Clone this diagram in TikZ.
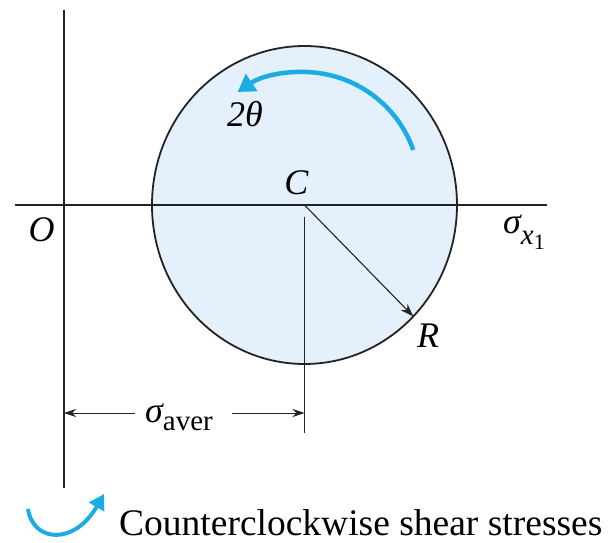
\documentclass[tikz,border=0pt]{standalone}
\usepackage{fontspec}
\setmainfont{Liberation Serif}
\usetikzlibrary{arrows.meta}
\definecolor{circfill}{RGB}{228,240,251}
\definecolor{arrblue}{RGB}{28,172,228}
\definecolor{ink}{RGB}{35,35,35}
\tikzset{
  axisline/.style={draw=ink,line width=1.6pt},
  thinline/.style={draw=ink,line width=1.1pt},
  lbl/.style={inner sep=0pt,font=\fontsize{36}{40}\selectfont\itshape},
  dimarrow/.style={draw=ink,line width=1pt,-{Stealth[length=12pt,width=8pt]}},
  bluearrow/.style={draw=arrblue,line width=4.5pt,-{Triangle[length=17pt,width=20pt]}},
  legendarrow/.style={draw=arrblue,line width=4pt,-{Triangle[length=15pt,width=17pt]}},
}
\newcommand{\subsz}[1]{{\fontsize{29}{32}\selectfont #1}}
\newcommand{\subsubsz}[1]{{\fontsize{22}{24}\selectfont #1}}
\begin{document}
\begin{tikzpicture}[x=1pt,y=1pt]
\useasboundingbox (0,0) rectangle (614,542);
% circle
\coordinate (C) at (304.5,337);
\fill[circfill] (C) ellipse [x radius=152.5, y radius=159];
\draw[ink,line width=1.8pt] (C) ellipse [x radius=152.5, y radius=159];
% axes
\coordinate (Vtop) at (64,532);
\coordinate (Vbot) at (64,54);
\coordinate (Hleft) at (15,337);
\coordinate (Hright) at (547,337);
\draw[axisline] (Vtop) -- (Vbot);
\draw[axisline] (Hleft) -- (Hright);
% radius
\coordinate (Rp) at (413.3,225.6);
\draw[thinline,-{Stealth[length=13pt,width=9pt]}] (C) -- (Rp);
% vertical line from center
\coordinate (Ct) at (304.5,325);
\coordinate (Cb) at (304.5,109);
\draw[thinline] (Ct) -- (Cb);
% dimension sigma_aver
\coordinate (D1) at (64,129);
\coordinate (D2) at (304.5,129);
\coordinate (G1) at (135,129);
\coordinate (G2) at (232,129);
\draw[dimarrow] (G1) -- (D1);
\draw[dimarrow] (G2) -- (D2);
\node[lbl,anchor=base west] (avg) at (145,120) {σ\raisebox{-8pt}{\subsz{\upshape aver}}};
% rotation arrow 2theta
\coordinate (arcC) at (303,353);
\draw[bluearrow] (arcC) ++(19.5:117) arc[start angle=19.5,end angle=124,radius=117];
\node[lbl,anchor=base] (theta) at (245,415) {2θ};
% labels
\node[lbl,anchor=base] (Clab) at (296.5,347) {C};
\node[lbl,anchor=base] (Rlab) at (428,195) {R};
\node[lbl,anchor=base] (Olab) at (41.5,300) {O};
\node[lbl,anchor=base west] (sx) at (503,308) {σ\raisebox{-11pt}{\subsz{x}\raisebox{-5pt}{\subsubsz{\upshape 1}}}};
% legend
\coordinate (L1) at (28,33);
\coordinate (L2) at (104,48);
\draw[legendarrow] (L1) .. controls (33,0) and (74,-4) .. (L2);
\node[anchor=base west,inner sep=0pt,font=\fontsize{37.5}{40}\selectfont] (legend) at (119,7) {Counterclockwise shear stresses};
\end{tikzpicture}
\end{document}
